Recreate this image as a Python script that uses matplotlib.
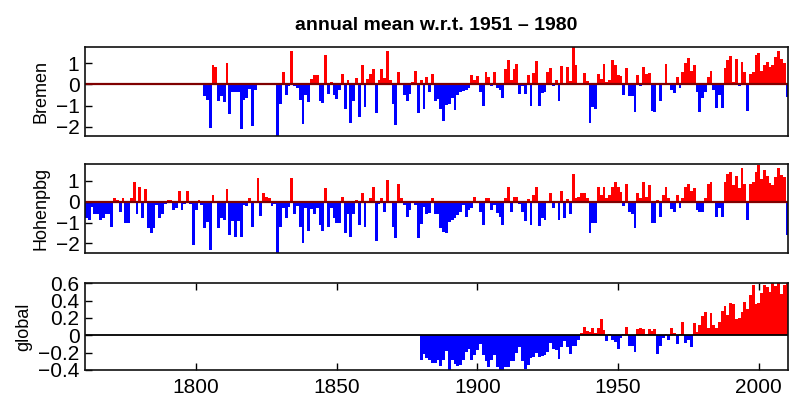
import numpy as np
import matplotlib
matplotlib.use("Agg")
import matplotlib.pyplot as plt

plt.rcParams['font.family'] = ['Liberation Sans', 'DejaVu Sans']

# annual mean temperature anomalies w.r.t. 1951-1980
bremen_start = 1803
bremen = [
    -0.55, -0.75, -2.05, 0.9, 0.8, -0.8, -0.55, -0.83, 1.0, -1.4,            # 1803-1812
    -0.35, -0.35, -0.38, -2.1, -0.75, -0.65, -0.2, -1.95, -0.25, 0.0,         # 1813-1822
    0.0, 0.0, 0.0, 0.0, 0.0, 0.0, -2.45, -0.9, 0.6, -0.5,                     # 1823-1832
    -0.1, 1.56, -0.1, -0.15, -0.75, -1.85, -0.5, -0.85, 0.25, 0.45,           # 1833-1842
    0.45, -0.8, -0.88, 1.37, -0.45, 0.1, -0.5, -0.7, -0.25, 0.5,              # 1843-1852
    -1.15, 0.2, -1.8, -0.8, 0.3, -1.55, 0.9, -1.05, 0.25, 0.5,                # 1853-1862
    0.7, -1.35, 0.2, 0.7, 0.3, 1.55, 0.2, -0.9, -1.9, 0.6,                    # 1863-1872
    0.05, -0.5, -0.8, -0.45, 0.1, 0.65, -1.35, 0.2, -1.15, 0.35,              # 1873-1882
    -0.35, 0.5, -0.8, -0.7, -1.15, -1.7, -0.95, -0.9, -0.65, -1.2,            # 1883-1892
    -0.5, -0.35, -0.3, -0.25, -0.15, 0.45, 0.2, 0.4, -0.35, -1.0,             # 1893-1902
    0.6, 0.35, -0.1, 0.6, -0.15, -0.25, -0.65, 0.7, 1.15, 0.2,                # 1903-1912
    0.7, 0.95, -0.45, -0.1, -0.45, 0.45, -1.0, 0.55, 1.1, -1.0,               # 1913-1922
    -0.4, -0.35, 0.6, 0.75, -0.1, 0.2, -0.8, 0.85, 0.05, 0.83,                # 1923-1932
    0.17, 1.75, 0.9, 0.08, 0.08, 0.55, 0.15, -1.8, -1.05, -1.15,              # 1933-1942
    0.5, 0.25, 0.95, 0.1, 0.2, 1.15, 0.9, 0.45, 0.4, -0.5,                    # 1943-1952
    0.75, -0.55, -0.55, -1.3, 0.45, -0.1, 0.83, 0.5, 0.55, -1.25,             # 1953-1962
    -1.28, 0.05, -0.8, 0.08, 0.95, 0.08, -0.25, -0.4, 0.33, -0.15,            # 1963-1972
    0.6, 1.0, 1.25, 0.65, 0.9, -0.35, -1.28, -0.63, -0.35, 0.35,              # 1973-1982
    0.65, -0.27, -1.1, -0.5, -1.1, 0.75, 1.15, 1.35, 0.1, 1.2,                # 1983-1992
    -0.1, 1.05, 0.6, -1.25, 0.5, 0.6, 1.4, 1.45, 0.65, 0.9,                   # 1993-2002
    1.05, 0.8, 0.9, 1.3, 1.55, 1.2, 1.0, -0.6,                                # 2003-2010
]

hohenpbg_start = 1761
hohenpbg = [
    -0.8, -0.88, -0.25, -0.6, -0.6, -0.9, -0.8, -0.6, -0.6, -1.2,             # 1761-1770
    0.2, 0.1, -0.5, 0.2, -1.0, -1.0, 0.2, 0.93, -0.6, 0.72,                   # 1771-1780
    -0.8, 0.6, -1.28, -1.5, -1.28, -0.15, -0.8, -0.6, -0.13, 0.1,             # 1781-1790
    0.1, -0.4, -0.32, 0.5, -0.4, -0.13, 0.5, -0.13, -2.1, -0.4,               # 1791-1800
    0.1, -0.15, -1.28, -0.96, -2.3, 0.32, -0.08, -1.28, -0.8, -0.9,           # 1801-1810
    0.6, -1.6, -0.93, -1.68, -0.93, -1.68, -0.15, -0.2, 0.2, -1.2,            # 1811-1820
    -0.08, 1.12, -0.7, 0.4, 0.24, 0.16, -0.2, -0.1, -2.45, -1.2,              # 1821-1830
    -0.32, -0.8, -0.27, 1.12, -0.6, -0.2, -1.2, -1.97, -0.32, -1.4,           # 1831-1840
    -0.35, -0.6, -0.32, -1.1, -1.4, 0.64, -1.2, -0.32, -0.8, -1.0,            # 1841-1850
    -1.0, 0.24, -1.5, -0.6, -1.68, -0.6, 0.1, -1.1, 0.4, -1.2,                # 1851-1860
    0.05, 0.2, 0.72, -1.9, -0.1, 0.2, -0.5, 1.04, -0.05, -1.2,                # 1861-1870
    -1.76, 0.83, 0.2, -0.16, -0.72, -0.4, -0.05, -0.16, -1.76, -1.07,         # 1871-1880
    -0.24, -0.6, -0.56, 0.16, -0.6, -0.6, -1.25, -1.44, -1.5, -0.96,          # 1881-1890
    -0.88, -0.8, -0.64, -0.48, -0.16, -0.72, -0.4, -0.3, 0.24, -0.08,         # 1891-1900
    -0.48, -1.1, 0.16, 0.16, -0.4, -0.16, -0.56, -0.72, -1.1, 0.16,           # 1901-1910
    0.72, -0.5, 0.24, 0.24, -0.13, -0.48, -0.93, 0.13, -1.1, 0.32,            # 1911-1920
    0.72, -1.15, -0.8, -0.9, -0.05, 0.43, -0.3, -0.05, -0.9, 0.53,            # 1921-1930
    -0.8, 0.14, -0.6, 1.33, 0.16, 0.24, 0.43, 0.43, 0.16, -1.5,               # 1931-1940
    -1.0, -1.0, 0.72, 0.32, 0.72, 0.16, 0.32, 0.7, 0.93, 0.7,                 # 1941-1950
    0.48, -0.2, 0.83, -0.48, -0.6, -1.28, 0.43, 0.16, 0.93, 0.24,             # 1951-1960
    0.8, -1.0, -1.0, 0.08, -0.72, 0.32, 0.72, 0.16, -0.37, -0.5,              # 1961-1970
    0.32, -0.3, 0.16, 0.72, 0.83, 0.53, 0.64, -0.4, -0.48, -0.48,             # 1971-1980
    0.16, 0.83, 0.96, -0.08, -0.72, -0.32, -0.72, 0.96, 1.33, 1.44,           # 1981-1990
    0.8, 1.25, 0.64, 1.6, 0.83, -0.88, 0.83, 0.96, 1.41, 1.76,                # 1991-2000
    1.09, 1.52, 1.25, 0.9, 0.8, 1.2, 1.6, 1.3, 1.2, -1.6,                     # 2001-2010
]

global_start = 1880
global_mean = [
    -0.28, -0.21, -0.26, -0.28, -0.32, -0.32, -0.29, -0.35, -0.28, -0.18,     # 1880-1889
    -0.40, -0.28, -0.33, -0.35, -0.34, -0.28, -0.19, -0.16, -0.28, -0.23,     # 1890-1899
    -0.17, -0.10, -0.23, -0.30, -0.36, -0.28, -0.23, -0.36, -0.40, -0.40,     # 1900-1909
    -0.36, -0.36, -0.30, -0.30, -0.20, -0.13, -0.30, -0.39, -0.34, -0.26,     # 1910-1919
    -0.25, -0.20, -0.25, -0.24, -0.23, -0.19, -0.09, -0.16, -0.17, -0.27,     # 1920-1929
    -0.13, -0.06, -0.14, -0.22, -0.12, -0.12, -0.05, 0.03, 0.10, 0.05,        # 1930-1939
    0.04, 0.09, 0.03, 0.09, 0.19, 0.06, -0.07, 0.01, -0.05, -0.08,            # 1940-1949
    -0.16, -0.03, 0.01, 0.10, -0.12, -0.12, -0.19, 0.07, 0.09, 0.07,          # 1950-1959
    0.02, 0.07, 0.05, 0.07, -0.21, -0.12, -0.03, 0.01, -0.05, 0.08,           # 1960-1969
    0.03, -0.10, 0.01, 0.15, -0.09, -0.05, -0.14, 0.14, 0.04, 0.12,           # 1970-1979
    0.22, 0.27, 0.09, 0.26, 0.12, 0.08, 0.15, 0.28, 0.34, 0.24,               # 1980-1989
    0.37, 0.36, 0.19, 0.20, 0.27, 0.38, 0.30, 0.46, 0.58, 0.36,               # 1990-1999
    0.37, 0.49, 0.58, 0.56, 0.50, 0.62, 0.57, 0.60, 0.48, 0.58, 0.63,         # 2000-2010
]

panels = [
    ("Bremen", bremen_start, bremen, (-2.41, 1.77), [-2, -1, 0, 1], '#7f0000'),
    ("Hohenpbg", hohenpbg_start, hohenpbg, (-2.45, 1.80), [-2, -1, 0, 1], '#7f0000'),
    ("global", global_start, global_mean, (-0.4, 0.6), [-0.4, -0.2, 0, 0.2, 0.4, 0.6], 'black'),
]

fig = plt.figure(figsize=(7.89, 3.99), dpi=100)
positions = [
    [0.1077, 0.660, 0.8915, 0.223],
    [0.1077, 0.3667, 0.8915, 0.2216],
    [0.1077, 0.0727, 0.8915, 0.2173],
]

for k, (name, start, vals, ylim, yticks, zcol) in enumerate(panels):
    ax = fig.add_axes(positions[k])
    vals = np.array(vals)
    years = start + np.arange(len(vals))
    colors = ['#ff0000' if v > 0 else '#0000ff' for v in vals]
    ax.bar(years, vals, width=1.0, color=colors, linewidth=0)
    ax.axhline(0, color=zcol, lw=1.6 if k < 2 else 1.3)
    ax.set_xlim(1760.5, 2010.5)
    ax.set_ylim(*ylim)
    ax.set_yticks(yticks)
    ax.set_yticklabels([f"{t:g}".replace('-', '\u2212') for t in yticks])
    ax.set_ylabel(name, fontsize=13, labelpad=4)
    ax.tick_params(axis='y', direction='in', length=5, width=1, labelsize=15, pad=4)
    for s in ax.spines.values():
        s.set_linewidth(1.2)
        s.set_color('#111111')
    if k < 2:
        ax.set_xticks([])
    else:
        ax.set_xticks([1800, 1850, 1900, 1950, 2000])
        ax.tick_params(axis='x', direction='in', length=5, width=1, labelsize=15,
                       top=True, pad=6)
    if k == 0:
        ax.set_title("annual mean w.r.t. 1951 \u2013 1980", fontsize=14,
                     fontweight='bold', pad=12)

fig.savefig("out.png", dpi=100)
